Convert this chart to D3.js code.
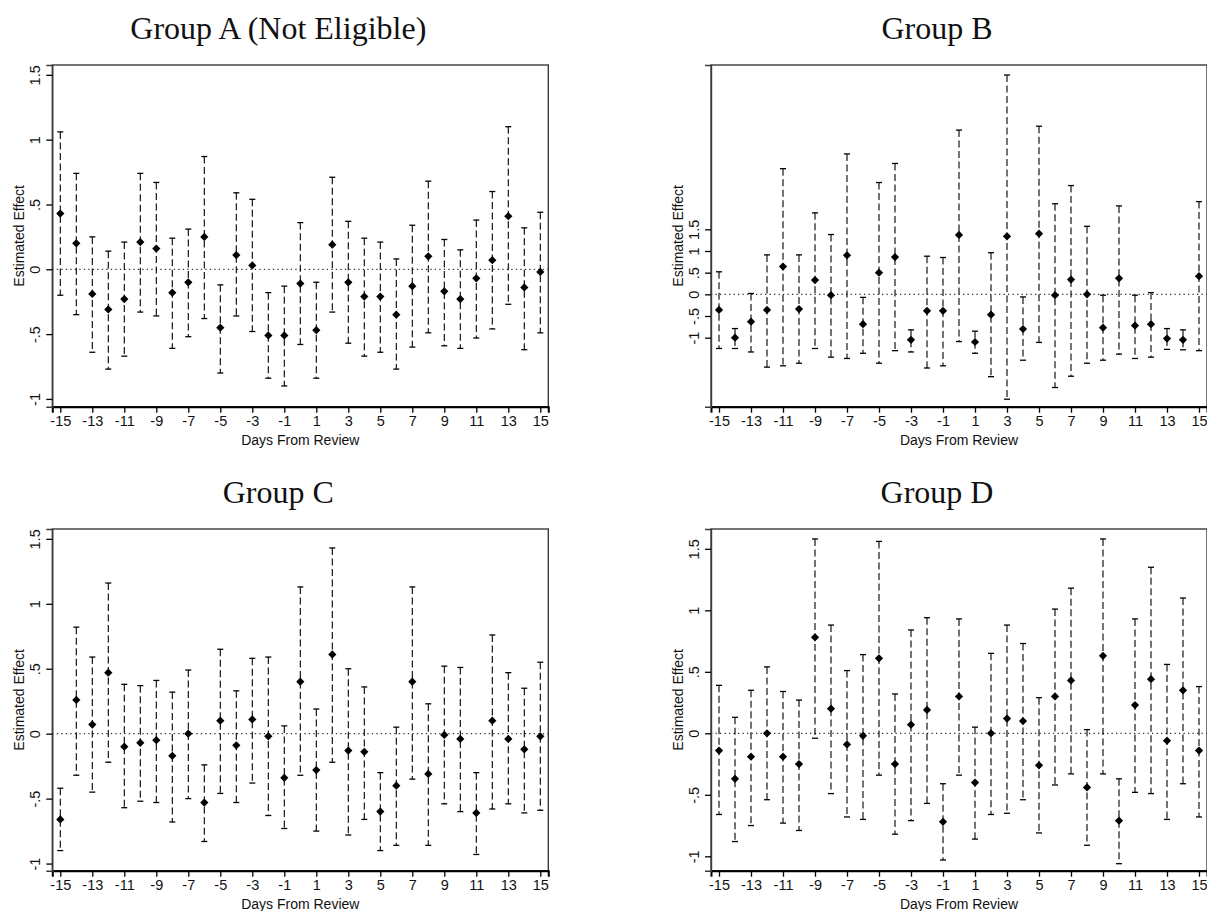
<!DOCTYPE html>
<html><head><meta charset="utf-8">
<script src="https://cdn.jsdelivr.net/npm/d3@7"></script>
<style>body{margin:0;background:#fff} svg{display:block}</style>
</head><body><svg id="c" width="1207" height="911"></svg>
<script>
// ---------- data ----------
const days = [-15,-14,-13,-12,-11,-10,-9,-8,-7,-6,-5,-4,-3,-2,-1,0,1,2,3,4,5,6,7,8,9,10,11,12,13,14,15];
const xTickValues = [-15,-13,-11,-9,-7,-5,-3,-1,1,3,5,7,9,11,13,15];
const yTickValues = [-1,-0.5,0,0.5,1,1.5];
const yTickLabels = ["-1","-.5","0",".5","1","1.5"];
const titles = ["Group A (Not Eligible)","Group B","Group C","Group D"];
const xAxisTitle = "Days From Review";
const yAxisTitle = "Estimated Effect";

const estA = [0.43,0.20,-0.19,-0.31,-0.23,0.21,0.16,-0.18,-0.10,0.25,-0.45,0.11,0.03,-0.51,-0.51,-0.11,-0.47,0.19,-0.10,-0.21,-0.21,-0.35,-0.13,0.10,-0.17,-0.23,-0.07,0.07,0.41,-0.14,-0.02];
const upA  = [1.06,0.74,0.25,0.14,0.21,0.74,0.67,0.24,0.31,0.87,-0.12,0.59,0.54,-0.18,-0.13,0.36,-0.10,0.71,0.37,0.24,0.21,0.08,0.34,0.68,0.23,0.15,0.38,0.60,1.10,0.32,0.44];
const loA  = [-0.20,-0.35,-0.64,-0.77,-0.67,-0.33,-0.36,-0.61,-0.52,-0.38,-0.80,-0.36,-0.48,-0.84,-0.90,-0.58,-0.84,-0.33,-0.57,-0.67,-0.64,-0.77,-0.60,-0.49,-0.59,-0.61,-0.53,-0.46,-0.27,-0.62,-0.49];

const estB = [-0.36,-1.00,-0.63,-0.36,0.64,-0.34,0.33,-0.02,0.90,-0.69,0.50,0.86,-1.05,-0.38,-0.38,1.37,-1.10,-0.47,1.34,-0.80,1.40,-0.02,0.34,0.00,-0.77,0.37,-0.72,-0.69,-1.02,-1.05,0.42];
const upB  = [0.52,-0.79,0.02,0.91,2.90,0.91,1.88,1.38,3.24,-0.07,2.58,3.02,-0.82,0.88,0.85,3.79,-0.85,0.96,5.06,-0.06,3.88,2.09,2.51,1.57,-0.02,2.04,-0.02,0.04,-0.79,-0.82,2.14];
const loB  = [-1.25,-1.25,-1.33,-1.68,-1.65,-1.59,-1.25,-1.45,-1.48,-1.36,-1.59,-1.30,-1.33,-1.70,-1.65,-1.09,-1.36,-1.90,-2.42,-1.52,-1.11,-2.15,-1.89,-1.59,-1.52,-1.38,-1.48,-1.45,-1.27,-1.28,-1.30];

const estC = [-0.66,0.26,0.07,0.47,-0.10,-0.07,-0.05,-0.17,0.00,-0.53,0.10,-0.09,0.11,-0.02,-0.34,0.40,-0.28,0.61,-0.13,-0.14,-0.60,-0.40,0.40,-0.31,-0.01,-0.04,-0.61,0.10,-0.04,-0.12,-0.02];
const upC  = [-0.42,0.82,0.59,1.16,0.38,0.37,0.41,0.32,0.49,-0.24,0.65,0.33,0.58,0.59,0.06,1.13,0.19,1.43,0.50,0.36,-0.30,0.05,1.13,0.23,0.52,0.51,-0.30,0.76,0.47,0.35,0.55];
const loC  = [-0.90,-0.32,-0.45,-0.22,-0.57,-0.52,-0.53,-0.68,-0.50,-0.83,-0.46,-0.53,-0.38,-0.63,-0.73,-0.32,-0.75,-0.22,-0.78,-0.66,-0.90,-0.86,-0.35,-0.86,-0.54,-0.60,-0.93,-0.58,-0.54,-0.61,-0.59];

const estD = [-0.14,-0.37,-0.19,0.00,-0.19,-0.25,0.78,0.20,-0.09,-0.02,0.61,-0.25,0.07,0.19,-0.72,0.30,-0.40,0.00,0.12,0.10,-0.26,0.30,0.43,-0.44,0.63,-0.71,0.23,0.44,-0.06,0.35,-0.14];
const upD  = [0.39,0.13,0.35,0.54,0.34,0.27,1.58,0.88,0.51,0.64,1.56,0.32,0.84,0.94,-0.41,0.93,0.05,0.65,0.88,0.73,0.29,1.01,1.18,0.03,1.58,-0.37,0.93,1.35,0.56,1.10,0.38];
const loD  = [-0.66,-0.88,-0.75,-0.54,-0.73,-0.79,-0.04,-0.49,-0.68,-0.70,-0.34,-0.82,-0.71,-0.57,-1.03,-0.34,-0.86,-0.66,-0.65,-0.54,-0.81,-0.42,-0.33,-0.91,-0.33,-1.06,-0.48,-0.49,-0.70,-0.41,-0.68];

const yDomains = [[-1.060,1.576],[-2.593,5.292],[-1.055,1.576],[-1.117,1.661]];

// ---------- layout ----------
const svg = d3.select("#c");
const panels = [
  {title:titles[0], est:estA, up:upA, lo:loA, yDom:yDomains[0], left:52.3, top:65},
  {title:titles[1], est:estB, up:upB, lo:loB, yDom:yDomains[1], left:711, top:65},
  {title:titles[2], est:estC, up:upC, lo:loC, yDom:yDomains[2], left:52.3, top:529},
  {title:titles[3], est:estD, up:upD, lo:loD, yDom:yDomains[3], left:711, top:529}
];
const W = 496, H = 341.7;
const sans = "'Liberation Sans', Arial, sans-serif";

panels.forEach(p => {
  const g = svg.append("g").attr("transform", `translate(${p.left},${p.top})`);
  const x = d3.scaleLinear().domain([-15.5, 15.5]).range([0, W]);
  const y = d3.scaleLinear().domain(p.yDom).range([H, 0]);

  // title
  svg.append("text")
    .attr("x", p.left + W/2 - 22).attr("y", p.top - 26)
    .attr("text-anchor","middle")
    .style("font-family","'Liberation Serif','Times New Roman',serif")
    .style("font-size","32px").attr("fill","#111")
    .text(p.title);

  // zero line
  g.append("line").attr("x1",0).attr("x2",W).attr("y1",y(0)).attr("y2",y(0))
    .attr("stroke","#333").attr("stroke-width",1.2).attr("stroke-dasharray","1.3,3.2");

  // error bars
  const bars = g.append("g");
  days.forEach((d,i) => {
    const cx = x(d);
    bars.append("line").attr("x1",cx).attr("x2",cx).attr("y1",y(p.up[i])).attr("y2",y(p.lo[i]))
      .attr("stroke","#000").attr("stroke-width",1.1).attr("stroke-dasharray","7,3.5");
    [p.up[i], p.lo[i]].forEach(v => {
      bars.append("line").attr("x1",cx-3).attr("x2",cx+3).attr("y1",y(v)).attr("y2",y(v))
        .attr("stroke","#000").attr("stroke-width",1.3);
    });
  });

  // points
  g.append("g").selectAll("path").data(days).join("path")
    .attr("d", d3.symbol(d3.symbolSquare, 34))
    .attr("transform",(d,i)=>`translate(${x(d)},${y(p.est[i])}) rotate(45)`)
    .attr("fill","#000");

  // frame
  g.append("rect").attr("x",0).attr("y",0).attr("width",W).attr("height",H)
    .attr("fill","none").attr("stroke","#3c3c3c").attr("stroke-width",1.4);

  // x axis
  const xa = g.append("g").attr("transform",`translate(0,${H})`)
    .call(d3.axisBottom(x).tickValues(xTickValues).tickSize(6).tickPadding(3).tickFormat(d=>String(d)));
  xa.select(".domain").attr("stroke","#000").attr("stroke-width",2);
  xa.selectAll(".tick line").attr("stroke","#000").attr("stroke-width",1.3);
  xa.selectAll("text").style("font-family",sans).style("font-size","14.5px").attr("fill","#111");

  // y axis
  const ya = g.append("g")
    .call(d3.axisLeft(y).tickValues(yTickValues).tickSize(6).tickFormat((d,i)=>yTickLabels[i]));
  ya.select(".domain").attr("stroke","#3c3c3c").attr("stroke-width",1.4);
  ya.selectAll(".tick line").attr("stroke","#000").attr("stroke-width",1.3);
  ya.selectAll("text")
    .attr("x",null).attr("dy",null)
    .attr("transform","translate(-12,0) rotate(-90)")
    .attr("text-anchor","middle")
    .style("font-family",sans).style("font-size","14.5px").attr("fill","#111");

  // axis titles
  g.append("text").attr("x",W/2).attr("y",H+38).attr("text-anchor","middle")
    .style("font-family",sans).style("font-size","14px").attr("fill","#111").text(xAxisTitle);
  g.append("text").attr("transform",`translate(-28,${H/2}) rotate(-90)`).attr("text-anchor","middle")
    .style("font-family",sans).style("font-size","14px").attr("fill","#111").text(yAxisTitle);
});
</script>
</body></html>
